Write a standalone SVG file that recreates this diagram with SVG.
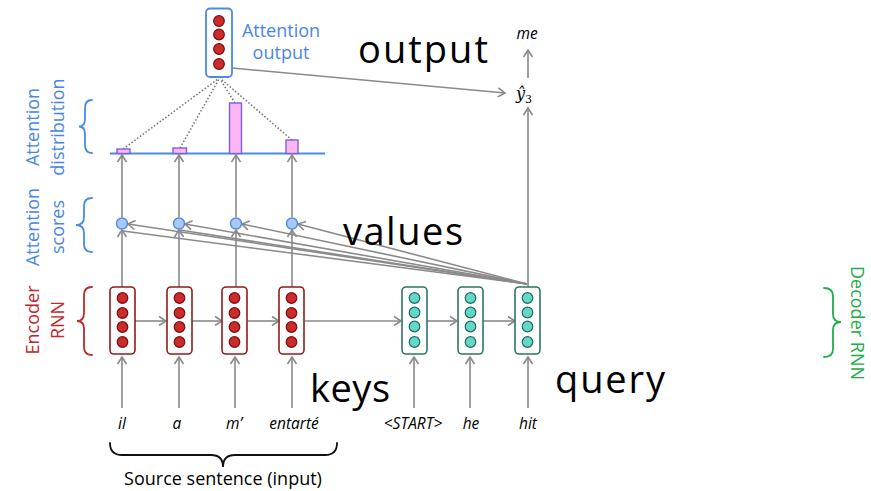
<svg xmlns="http://www.w3.org/2000/svg" width="871" height="491" viewBox="0 0 871 491">
  <style>
    .conn { stroke: #8a8a8a; stroke-width: 1.6; fill: none; }
    .arr { marker-end: url(#head); }
    .dot { stroke: #6f6f6f; stroke-width: 1.5; stroke-dasharray: 1.5 2; fill: none; }
    .encbox { fill: #fff; stroke: #8e1c1c; stroke-width: 1.6; }
    .encdot { fill: #cc2b2b; stroke: #7a0c0c; stroke-width: 1.2; }
    .decbox { fill: #fff; stroke: #2b7566; stroke-width: 1.6; }
    .decdot { fill: #62d9c6; stroke: #1f6b5c; stroke-width: 1.2; }
    .outbox { fill: #fff; stroke: #4a8ae6; stroke-width: 1.8; }
    .score { fill: #a9c9f4; stroke: #4f8be3; stroke-width: 1.4; }
    .bar { fill: #ffb5f3; stroke: #7366dc; stroke-width: 1.4; }
    .blue { fill: #4a86e8; font-family: "Open Sans", "Liberation Sans", sans-serif; font-size: 18px; }
    .red { fill: #c0282a; font-family: "Open Sans", "Liberation Sans", sans-serif; font-size: 18px; }
    .green { fill: #22ad48; font-family: "Open Sans", "Liberation Sans", sans-serif; font-size: 18px; }
    .big { fill: #000; font-family: "Open Sans", "Liberation Sans", sans-serif; font-size: 38px; }
    .word { fill: #000; font-family: "Open Sans", "Liberation Sans", sans-serif; font-size: 15.5px; font-style: italic; text-anchor: middle; }
    .brace { fill: none; stroke-width: 1.8; stroke-linecap: round; }
  </style>
  <defs>
    <marker id="head" markerUnits="userSpaceOnUse" viewBox="-10 -6 12 12" refX="0" refY="0" markerWidth="12" markerHeight="12" orient="auto">
      <path d="M-7,-4.5 L0,0 L-7,4.5" fill="none" stroke="#8a8a8a" stroke-width="1.6"/>
    </marker>
  </defs>

  <!-- connectors -->
  <g id="connectors">
    <!-- inputs into encoder / decoder -->
    <line class="conn arr" x1="122" y1="408" x2="122" y2="357"/>
    <line class="conn arr" x1="179" y1="408" x2="179" y2="357"/>
    <line class="conn arr" x1="235" y1="408" x2="235" y2="357"/>
    <line class="conn arr" x1="292" y1="408" x2="292" y2="357"/>
    <line class="conn arr" x1="414" y1="408" x2="414" y2="357"/>
    <line class="conn arr" x1="470" y1="408" x2="470" y2="357"/>
    <line class="conn arr" x1="528" y1="408" x2="528" y2="357"/>
    <!-- recurrent links -->
    <line class="conn arr" x1="135" y1="321" x2="166" y2="321"/>
    <line class="conn arr" x1="192" y1="321" x2="222" y2="321"/>
    <line class="conn arr" x1="248" y1="321" x2="279" y2="321"/>
    <line class="conn arr" x1="305" y1="321" x2="401" y2="321"/>
    <line class="conn arr" x1="427" y1="321" x2="457" y2="321"/>
    <line class="conn arr" x1="483" y1="321" x2="515" y2="321"/>
    <!-- encoder states to scores -->
    <line class="conn arr" x1="122" y1="287" x2="122" y2="230"/>
    <line class="conn arr" x1="179" y1="287" x2="179" y2="230"/>
    <line class="conn arr" x1="236" y1="287" x2="236" y2="230"/>
    <line class="conn arr" x1="292" y1="287" x2="292" y2="230"/>
    <!-- scores to distribution -->
    <line class="conn arr" x1="122" y1="217" x2="122" y2="155"/>
    <line class="conn arr" x1="179" y1="217" x2="179" y2="155"/>
    <line class="conn arr" x1="236" y1="217" x2="236" y2="155"/>
    <line class="conn arr" x1="292" y1="217" x2="292" y2="155"/>
    <!-- decoder state to scores -->
    <line class="conn arr" x1="527" y1="284" x2="128" y2="224"/>
    <line class="conn" x1="527" y1="284" x2="123" y2="231"/>
    <line class="conn arr" x1="527" y1="284" x2="185" y2="224"/>
    <line class="conn" x1="527" y1="284" x2="180" y2="230"/>
    <line class="conn arr" x1="527" y1="284" x2="242" y2="224"/>
    <line class="conn arr" x1="527" y1="284" x2="298" y2="224"/>
    <!-- weighted sum -->
    <line class="dot" x1="123" y1="149" x2="218" y2="79"/>
    <line class="dot" x1="180" y1="148" x2="219" y2="79"/>
    <line class="dot" x1="235" y1="103" x2="220" y2="79"/>
    <line class="dot" x1="292" y1="140" x2="221" y2="79"/>
    <!-- output path -->
    <line class="conn arr" x1="232" y1="68" x2="505" y2="93"/>
    <line class="conn arr" x1="528" y1="287" x2="528" y2="108"/>
    <line class="conn arr" x1="528" y1="78" x2="528" y2="50"/>
  </g>

  <!-- encoder RNN -->
  <g id="enc1">
    <rect class="encbox" x="110" y="287" width="25" height="67" rx="4"/>
    <circle class="encdot" cx="122.5" cy="298" r="5.3"/><circle class="encdot" cx="122.5" cy="313" r="5.3"/>
    <circle class="encdot" cx="122.5" cy="327" r="5.3"/><circle class="encdot" cx="122.5" cy="342" r="5.3"/>
  </g>
  <g id="enc2">
    <rect class="encbox" x="167" y="287" width="25" height="67" rx="4"/>
    <circle class="encdot" cx="179.5" cy="298" r="5.3"/><circle class="encdot" cx="179.5" cy="313" r="5.3"/>
    <circle class="encdot" cx="179.5" cy="327" r="5.3"/><circle class="encdot" cx="179.5" cy="342" r="5.3"/>
  </g>
  <g id="enc3">
    <rect class="encbox" x="222" y="287" width="25" height="67" rx="4"/>
    <circle class="encdot" cx="234.5" cy="298" r="5.3"/><circle class="encdot" cx="234.5" cy="313" r="5.3"/>
    <circle class="encdot" cx="234.5" cy="327" r="5.3"/><circle class="encdot" cx="234.5" cy="342" r="5.3"/>
  </g>
  <g id="enc4">
    <rect class="encbox" x="279" y="287" width="25" height="67" rx="4"/>
    <circle class="encdot" cx="291.5" cy="298" r="5.3"/><circle class="encdot" cx="291.5" cy="313" r="5.3"/>
    <circle class="encdot" cx="291.5" cy="327" r="5.3"/><circle class="encdot" cx="291.5" cy="342" r="5.3"/>
  </g>

  <!-- decoder RNN -->
  <g id="dec1">
    <rect class="decbox" x="402" y="287" width="25" height="67" rx="4"/>
    <circle class="decdot" cx="414.5" cy="298" r="5.3"/><circle class="decdot" cx="414.5" cy="312.5" r="5.3"/>
    <circle class="decdot" cx="414.5" cy="326.5" r="5.3"/><circle class="decdot" cx="414.5" cy="342" r="5.3"/>
  </g>
  <g id="dec2">
    <rect class="decbox" x="458" y="287" width="25" height="67" rx="4"/>
    <circle class="decdot" cx="470.5" cy="298" r="5.3"/><circle class="decdot" cx="470.5" cy="312.5" r="5.3"/>
    <circle class="decdot" cx="470.5" cy="326.5" r="5.3"/><circle class="decdot" cx="470.5" cy="342" r="5.3"/>
  </g>
  <g id="dec3">
    <rect class="decbox" x="515" y="287" width="25" height="67" rx="4"/>
    <circle class="decdot" cx="527.5" cy="298" r="5.3"/><circle class="decdot" cx="527.5" cy="312.5" r="5.3"/>
    <circle class="decdot" cx="527.5" cy="326.5" r="5.3"/><circle class="decdot" cx="527.5" cy="342" r="5.3"/>
  </g>

  <!-- attention scores -->
  <g id="scores">
    <circle class="score" cx="122" cy="223.5" r="5.5"/>
    <circle class="score" cx="179" cy="223.5" r="5.5"/>
    <circle class="score" cx="236" cy="223.5" r="5.5"/>
    <circle class="score" cx="292" cy="223.5" r="5.5"/>
  </g>

  <!-- attention distribution -->
  <g id="distribution">
    <line x1="110" y1="153.5" x2="325" y2="153.5" stroke="#4a8ae6" stroke-width="1.8"/>
    <rect class="bar" x="117" y="149" width="13" height="4.5"/>
    <rect class="bar" x="173" y="148" width="13.5" height="5.5"/>
    <rect class="bar" x="229.5" y="103" width="12" height="50.5"/>
    <rect class="bar" x="286" y="140" width="12" height="13.5"/>
  </g>

  <!-- attention output -->
  <g id="attn-output">
    <rect class="outbox" x="206" y="8.5" width="26" height="68.5" rx="4"/>
    <circle class="encdot" cx="219" cy="21" r="5.3"/><circle class="encdot" cx="219" cy="34.5" r="5.3"/>
    <circle class="encdot" cx="219" cy="49" r="5.3"/><circle class="encdot" cx="219" cy="64" r="5.3"/>
    <text class="blue" x="281" y="37" text-anchor="middle" font-size="17.5">Attention</text>
    <text class="blue" x="281" y="59" text-anchor="middle" font-size="17.5">output</text>
  </g>

  <!-- prediction -->
  <g id="prediction">
    <text x="516" y="99" font-family="DejaVu Serif, Liberation Serif, serif" font-style="italic" font-size="16" fill="#000">ŷ<tspan font-size="11" font-style="normal" dy="4">3</tspan></text>
    <text class="word" x="527" y="39" font-size="13.5">me</text>
  </g>

  <!-- side labels -->
  <g id="label-distribution">
    <path class="brace" stroke="#4a8ae6" d="M92,100 Q85,100 85,108 L85,119 Q85,126.5 79,126.5 Q85,126.5 85,134 L85,145 Q85,153 92,153"/>
    <text class="blue" transform="translate(39,127) rotate(-90)" text-anchor="middle">Attention</text>
    <text class="blue" transform="translate(64,127) rotate(-90)" text-anchor="middle">distribution</text>
  </g>
  <g id="label-scores">
    <path class="brace" stroke="#4a8ae6" d="M92,198 Q84,198 84,206 L84,217 Q84,225 76,225 Q84,225 84,233 L84,244 Q84,252 92,252"/>
    <text class="blue" transform="translate(39,227) rotate(-90)" text-anchor="middle">Attention</text>
    <text class="blue" transform="translate(64,227) rotate(-90)" text-anchor="middle">scores</text>
  </g>
  <g id="label-encoder">
    <path class="brace" stroke="#c0282a" d="M92,287 Q84,287 84,295 L84,313 Q84,321 77,321 Q84,321 84,329 L84,347 Q84,355 92,355"/>
    <text class="red" transform="translate(39,320) rotate(-90)" text-anchor="middle">Encoder</text>
    <text class="red" transform="translate(64,320) rotate(-90)" text-anchor="middle">RNN</text>
  </g>
  <g id="label-decoder">
    <path class="brace" stroke="#22ad48" d="M824,288 Q833,288 833,296 L833,314 Q833,322 841,322 Q833,322 833,330 L833,349 Q833,357 824,357"/>
    <text class="green" transform="translate(851,323) rotate(90)" text-anchor="middle">Decoder RNN</text>
  </g>

  <!-- big annotations -->
  <text class="big" x="358" y="63" textLength="130">output</text>
  <text class="big" x="343" y="245" textLength="120">values</text>
  <text class="big" x="310" y="402" textLength="80">keys</text>
  <text class="big" x="555" y="393" textLength="110">query</text>

  <!-- input words -->
  <g id="words">
    <text class="word" x="122" y="429">il</text>
    <text class="word" x="177" y="429">a</text>
    <text class="word" x="234" y="429">m’</text>
    <text class="word" x="294" y="429">entarté</text>
    <text class="word" x="413" y="429">&lt;START&gt;</text>
    <text class="word" x="471" y="429">he</text>
    <text class="word" x="528" y="429">hit</text>
  </g>

  <!-- source sentence bracket -->
  <g id="source">
    <path class="brace" stroke="#111" d="M110,443 Q110,455 122,455 L211,455 Q223,455 223,467 Q223,455 235,455 L325,455 Q337,455 337,443"/>
    <text x="223" y="485" text-anchor="middle" font-family="Open Sans, Liberation Sans, sans-serif" font-size="18" fill="#000">Source sentence (input)</text>
  </g>
</svg>
